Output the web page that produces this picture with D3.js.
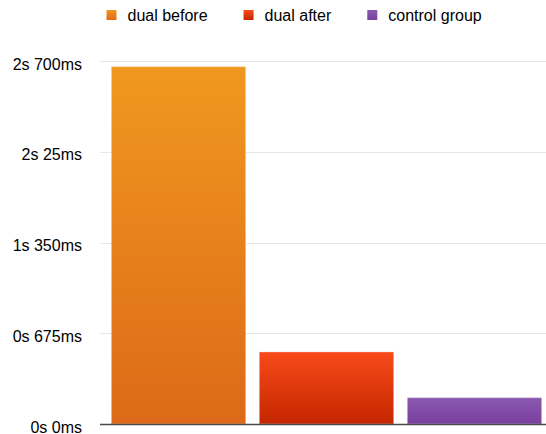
<!DOCTYPE html>
<html>
<head>
<meta charset="utf-8">
<script src="https://d3js.org/d3.v7.min.js"></script>
<style>
  body { margin: 0; background: #fff; }
  svg { font-family: "Liberation Sans", Arial, sans-serif; }
  .grid line { stroke: #e6e6e6; stroke-width: 1; }
  .axis text { font-size: 16px; fill: #000; }
  .legend text { font-size: 16px; fill: #000; }
</style>
</head>
<body>
<script>
  // data
  var groups = ["dual before", "dual after", "control group"];
  var durations = [2658, 536, 196];  // ms
  var tickValues = [0, 675, 1350, 2025, 2700];
  var tickLabels = ["0s 0ms", "0s 675ms", "1s 350ms", "2s 25ms", "2s 700ms"];
  var topColors = ["#f0981f", "#f84a1a", "#8a59b0"];
  var bottomColors = ["#dd6a18", "#c52700", "#7a3f9f"];

  var width = 546, height = 434;

  var svg = d3.select("body").append("svg")
      .attr("width", width)
      .attr("height", height);

  var x = d3.scaleBand()
      .domain(groups)
      .range([104.5, 548.5])
      .paddingInner(0.0915)
      .paddingOuter(0.046);

  var y = d3.scaleLinear()
      .domain([0, 2700])
      .range([424, 61]);

  // gradients
  var defs = svg.append("defs");
  groups.forEach(function(g, i) {
    var grad = defs.append("linearGradient")
        .attr("id", "grad" + i)
        .attr("x1", 0).attr("y1", 0).attr("x2", 0).attr("y2", 1);
    grad.append("stop").attr("offset", "0%").attr("stop-color", topColors[i]);
    grad.append("stop").attr("offset", "100%").attr("stop-color", bottomColors[i]);
  });

  // grid lines
  svg.append("g")
      .attr("class", "grid")
    .selectAll("line")
      .data(tickValues.slice(1))
    .enter().append("line")
      .attr("x1", 100)
      .attr("x2", width)
      .attr("y1", function(d) { return Math.round(y(d)) + 0.5; })
      .attr("y2", function(d) { return Math.round(y(d)) + 0.5; });

  // y axis labels
  var axis = d3.axisLeft(y)
      .tickValues(tickValues)
      .tickSize(0)
      .tickPadding(0)
      .tickFormat(function(d, i) { return tickLabels[i]; });

  svg.append("g")
      .attr("class", "axis")
      .attr("transform", "translate(82,0)")
      .call(axis)
      .call(function(g) { g.select(".domain").remove(); })
      .selectAll("text")
      .attr("dy", "0.5em");

  // bars
  svg.append("g")
    .selectAll("rect")
      .data(durations)
    .enter().append("rect")
      .attr("x", function(d, i) { return x(groups[i]); })
      .attr("y", function(d) { return y(d); })
      .attr("width", x.bandwidth())
      .attr("height", function(d) { return y(0) - y(d); })
      .attr("fill", function(d, i) { return "url(#grad" + i + ")"; })
      .attr("stroke", "rgba(255,255,255,0.35)")
      .attr("stroke-width", 1);

  // baseline
  svg.append("line")
      .attr("x1", 100)
      .attr("x2", width)
      .attr("y1", y(0) + 0.5)
      .attr("y2", y(0) + 0.5)
      .attr("stroke", "#4a4a4a")
      .attr("stroke-width", 1.5);

  // legend
  var legend = svg.append("g").attr("class", "legend");
  var lx = 106.5;
  groups.forEach(function(g, i) {
    legend.append("rect")
        .attr("x", lx)
        .attr("y", 10)
        .attr("width", 10)
        .attr("height", 10)
        .attr("fill", "url(#grad" + i + ")");
    var t = legend.append("text")
        .attr("x", lx + 21)
        .attr("y", 21)
        .text(g);
    lx += 21 + t.node().getComputedTextLength() + 36;
  });
</script>
</body>
</html>
